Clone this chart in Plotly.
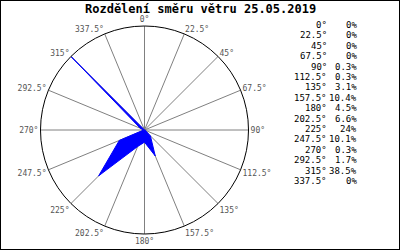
import plotly.graph_objects as go

directions = [0, 22.5, 45, 67.5, 90, 112.5, 135, 157.5, 180, 202.5, 225, 247.5, 270, 292.5, 315, 337.5]
percents = [0, 0, 0, 0, 0.3, 0.3, 3.1, 10.4, 4.5, 6.6, 24, 10.1, 0.3, 1.7, 38.5, 0]
title_text = "Rozdělení směru větru 25.05.2019"

def fmt(v):
    return ("%g" % v)

tick_labels = [fmt(d) + "°" for d in directions]

fig = go.Figure()
fig.add_trace(go.Scatterpolar(
    r=percents + [percents[0]],
    theta=directions + [directions[0]],
    mode="lines",
    fill="toself",
    fillcolor="#0000ff",
    line=dict(color="#0000ff", width=1),
    hoverinfo="skip",
    showlegend=False,
))

mono = "DejaVu Sans Mono"
annotations = [dict(
    text="<b>" + title_text + "</b>", x=200, y=9, xref="x", yref="y",
    xanchor="center", yanchor="middle", showarrow=False,
    font=dict(family=mono, size=12, color="black"))]
for i, (d, p) in enumerate(zip(directions, percents)):
    y = 25 + 10.4 * i
    annotations.append(dict(text=fmt(d) + "°", x=329, y=y, xref="x", yref="y",
                            xanchor="right", yanchor="middle", showarrow=False,
                            font=dict(family=mono, size=9, color="black")))
    annotations.append(dict(text=fmt(p) + "%", x=359, y=y, xref="x", yref="y",
                            xanchor="right", yanchor="middle", showarrow=False,
                            font=dict(family=mono, size=9, color="black")))

fig.update_layout(
    width=400, height=250,
    margin=dict(l=0, r=0, t=0, b=0),
    paper_bgcolor="white", plot_bgcolor="white",
    xaxis=dict(range=[0, 400], visible=False, fixedrange=True),
    yaxis=dict(range=[250, 0], visible=False, fixedrange=True),
    polar=dict(
        domain=dict(x=[40.5 / 400, 248.5 / 400], y=[(250 - 234) / 250, (250 - 26) / 250]),
        bgcolor="white",
        angularaxis=dict(
            rotation=90, direction="clockwise",
            tickmode="array", tickvals=directions, ticktext=tick_labels,
            showgrid=True, gridcolor="#808080", gridwidth=1,
            showline=True, linecolor="black", linewidth=1,
            ticks="", tickfont=dict(family=mono, size=8, color="#555555"),
        ),
        radialaxis=dict(range=[0, 38.5], visible=False, showgrid=False),
    ),
    annotations=annotations,
    shapes=[dict(type="rect", xref="paper", yref="paper", x0=0, y0=0, x1=1, y1=1,
                 line=dict(color="black", width=2))],
)

fig.write_html("out.html")
